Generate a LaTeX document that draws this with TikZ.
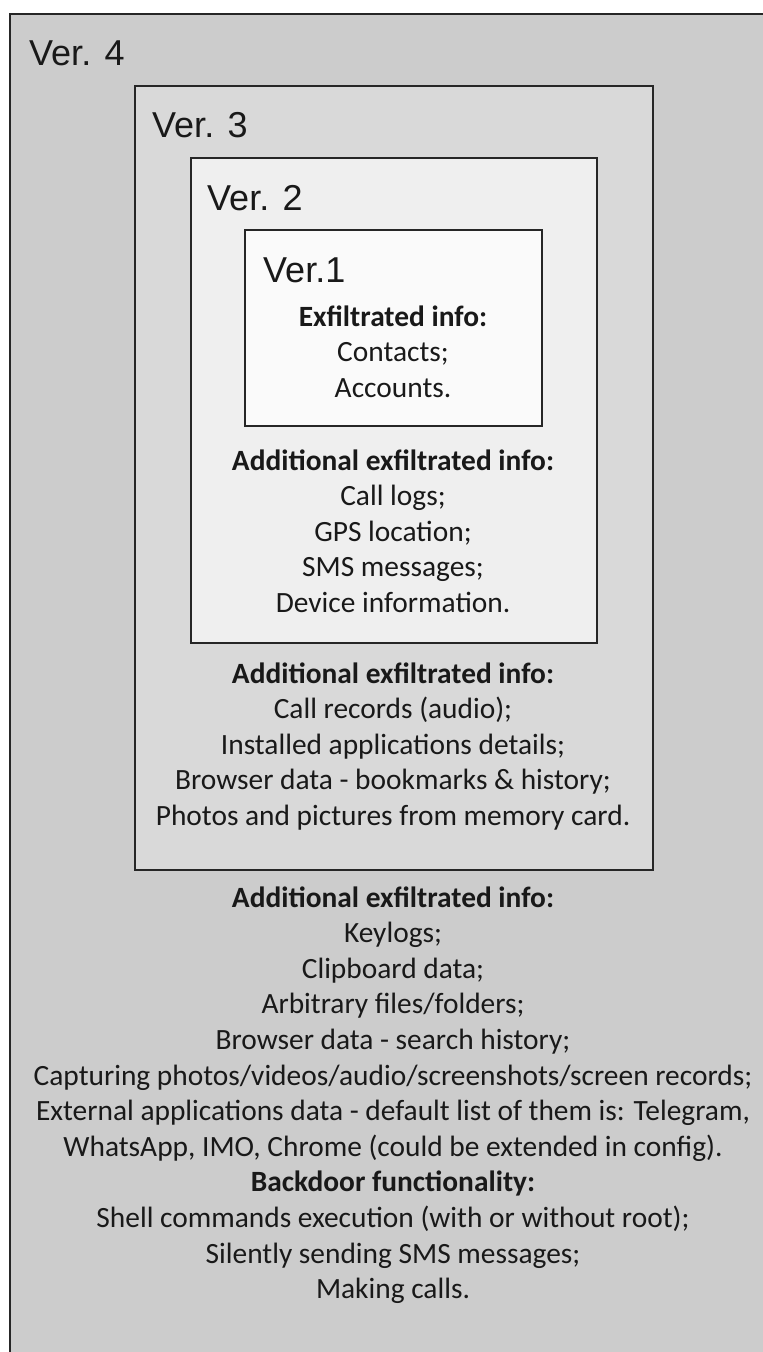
\documentclass[tikz,border=0pt]{standalone}
\usepackage{fontspec}
\setmainfont{Carlito}
\newfontfamily\arialfont{Liberation Sans}
\usetikzlibrary{positioning}

\definecolor{verfour}{HTML}{CCCCCC}
\definecolor{verthree}{HTML}{D9D9D9}
\definecolor{vertwo}{HTML}{EFEFEF}
\definecolor{verone}{HTML}{FAFAFA}
\definecolor{frameline}{HTML}{262626}

\tikzset{
  verbox/.style={draw=frameline, line width=1.5pt, inner sep=0pt, anchor=north west},
  vertitle/.style={font=\arialfont\fontsize{36}{42}\selectfont, text=black!90, anchor=base west, inner sep=0pt},
  % anchor=base sits on the last line of a block
  infotext/.style={font=\fontsize{29.4}{35.6}\selectfont, text=black!90, align=center, anchor=base, inner sep=0pt}
}

\begin{document}
\begin{tikzpicture}[x=1pt, y=-1pt]
  \useasboundingbox (0,0) rectangle (763,1352);
  \clip (0,0) rectangle (763,1352);
  % Nested version frames
  \node[verbox, fill=verfour, line width=2pt, minimum width=780pt, minimum height=1400pt] (v4) at (9,13) {};
  \node[verbox, fill=verthree, minimum width=518pt, minimum height=784pt] (v3) at (134,85) {};
  \node[verbox, fill=vertwo, minimum width=406pt, minimum height=485pt] (v2) at (190,157) {};
  \node[verbox, fill=verone, minimum width=297pt, minimum height=196pt] (v1) at (244,229) {};
  % Titles
  \node[vertitle] (t4) at (29,65) {Ver. 4};
  \node[vertitle] (t3) at (152,137) {Ver. 3};
  \node[vertitle] (t2) at (207,210) {Ver. 2};
  \node[vertitle] (t1) at (263,282) {Ver.1};
  % Exfiltrated info, one block per version
  \node[infotext] (i1) at (393,397.2) {\textbf{Exfiltrated info:}\\Contacts;\\Accounts.};
  \node[infotext] (i2) at (393,612.4) {\textbf{Additional exfiltrated info:}\\Call logs;\\GPS location;\\SMS messages;\\Device information.};
  \node[infotext] (i3) at (393,825.4) {\textbf{Additional exfiltrated info:}\\Call records (audio);\\Installed applications details;\\Browser data - bookmarks \& history;\\Photos and pictures from memory card.};
  \node[infotext] (i4) at (393,1298.6) {\textbf{Additional exfiltrated info:}\\Keylogs;\\Clipboard data;\\Arbitrary files/folders;\\Browser data - search history;\\Capturing photos/videos/audio/screenshots/screen records;\\External applications data - default list of them is: Telegram,\\WhatsApp, IMO, Chrome (could be extended in config).\\\textbf{Backdoor functionality:}\\Shell commands execution (with or without root);\\Silently sending SMS messages;\\Making calls.};
\end{tikzpicture}
\end{document}
